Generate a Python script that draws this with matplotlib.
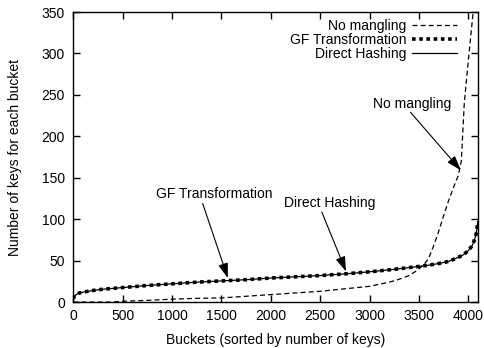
import matplotlib
matplotlib.use("Agg")
import matplotlib.pyplot as plt

plt.rcParams['font.family'] = ['Liberation Sans', 'DejaVu Sans']

# Data
hash_x = [0, 10, 30, 60, 100, 200, 300, 500, 750, 1000, 1250, 1500, 1750, 2000,
          2250, 2500, 2750, 3000, 3250, 3500, 3600, 3700, 3800, 3900, 3950, 4000,
          4040, 4060, 4080, 4090, 4096]
direct_hashing = [4, 7, 9, 11, 12, 14, 15.5, 17.5, 20, 22, 24, 25.5, 27, 29,
                  30.5, 32, 34, 36.5, 39.5, 43, 44.5, 46.5, 49, 54, 57, 62,
                  68, 74, 82, 90, 97]
gf_transformation = [4, 7, 9, 11, 12, 14, 15.5, 17.5, 20, 22, 24, 25.5, 27, 29,
                     30.5, 32, 34, 36.5, 39.5, 43, 44.5, 46.5, 49, 54, 57, 62,
                     68, 74, 82, 90, 97]

nm_x = [0, 400, 500, 750, 1000, 1250, 1500, 1750, 2000, 2250, 2500, 2750, 3000,
        3200, 3300, 3400, 3480, 3550, 3600, 3650, 3700, 3750, 3800, 3850, 3900,
        3930, 3960, 4000, 4050, 4096]
no_mangling = [0, 0, 1, 2, 3.5, 4.5, 5, 7, 9, 11, 13, 16, 19,
               24, 27.5, 32, 38, 45, 53, 68, 85, 104, 122, 138, 153,
               170, 240, 290, 350, 400]

x_ticks = [0, 500, 1000, 1500, 2000, 2500, 3000, 3500, 4000]
y_ticks = [0, 50, 100, 150, 200, 250, 300, 350]

fig = plt.figure(figsize=(4.84, 3.48), dpi=100)
ax = fig.add_axes([0.1515, 0.132, 0.8355, 0.8335])

ax.plot(nm_x, no_mangling, color='black', lw=0.9, ls=(0, (4, 2.5)), label='No mangling')
ax.plot(hash_x, gf_transformation, color='black', lw=2.6, ls=(0, (1, 1)), label='GF Transformation')
ax.plot(hash_x, direct_hashing, color='black', lw=0.9, ls='-', label='Direct Hashing')

ax.set_xlim(0, 4096)
ax.set_ylim(0, 350)
ax.set_xticks(x_ticks)
ax.set_yticks(y_ticks)
ax.tick_params(direction='in', top=True, right=True, length=5, width=1,
               labelsize=10)
ax.tick_params(axis='y', pad=6)
ax.tick_params(axis='x', pad=5)
for s in ax.spines.values():
    s.set_linewidth(1.0)

ax.set_xlabel('Buckets (sorted by number of keys)', fontsize=10, labelpad=7)
ax.set_ylabel('Number of keys for each bucket', fontsize=10, labelpad=14)

leg = ax.legend(loc='upper right', bbox_to_anchor=(0.965, 1.0), frameon=False,
                markerfirst=False, fontsize=10,
                handlelength=3.2, handletextpad=0.4, labelspacing=0.0,
                borderaxespad=0.1)
for t in leg.get_texts():
    t.set_ha('right')

arrowprops = dict(arrowstyle='-|>,head_length=0.9,head_width=0.3', color='black',
                  lw=0.8, shrinkA=0, shrinkB=0)
ax.annotate('', xy=(3925, 159), xytext=(3415, 229), arrowprops=arrowprops)
ax.text(3436, 238.5, 'No mangling', ha='center', va='center', fontsize=10)
ax.annotate('', xy=(1565, 29), xytext=(1310, 119), arrowprops=arrowprops)
ax.text(1425, 130, 'GF Transformation', ha='center', va='center', fontsize=10)
ax.annotate('', xy=(2762, 37), xytext=(2517, 108.6), arrowprops=arrowprops)
ax.text(2598, 119, 'Direct Hashing', ha='center', va='center', fontsize=10)

fig.savefig('out.png', dpi=100)
